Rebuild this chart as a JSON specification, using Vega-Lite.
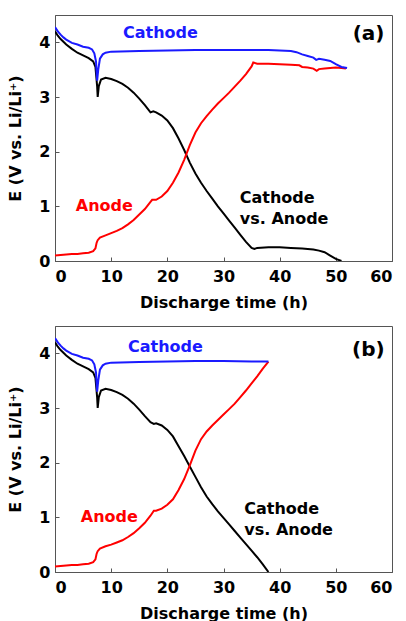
{
  "$schema": "https://vega.github.io/schema/vega-lite/v6.json",
  "padding": {"left": 7, "top": 14, "right": 0, "bottom": 0},
  "background": "white",
  "spacing": 65,
  "bounds": "flush",
  "config": {
    "font": "DejaVu Sans",
    "view": {"stroke": "#555555", "strokeWidth": 1},
    "axis": {
      "grid": false,
      "domainColor": "#555555",
      "tickColor": "#555555",
      "tickSize": -4,
      "labelPadding": 9,
      "labelFont": "DejaVu Sans",
      "labelFontSize": 16,
      "labelFontWeight": "bold",
      "labelColor": "#000000",
      "titleFont": "DejaVu Sans",
      "titleFontSize": 16,
      "titleFontWeight": "bold",
      "titleColor": "#000000",
      "format": "d"
    },
    "axisX": {"labelPadding": 11}
  },
  "datasets": {
    "curves": [
      {"panel":"a","series":"Cathode vs. Anode","t":0,"E":4.2},
      {"panel":"a","series":"Cathode vs. Anode","t":0.5,"E":4.12},
      {"panel":"a","series":"Cathode vs. Anode","t":1,"E":4.06},
      {"panel":"a","series":"Cathode vs. Anode","t":2,"E":3.96},
      {"panel":"a","series":"Cathode vs. Anode","t":3,"E":3.88},
      {"panel":"a","series":"Cathode vs. Anode","t":4,"E":3.81},
      {"panel":"a","series":"Cathode vs. Anode","t":5,"E":3.76},
      {"panel":"a","series":"Cathode vs. Anode","t":6,"E":3.71},
      {"panel":"a","series":"Cathode vs. Anode","t":6.8,"E":3.65},
      {"panel":"a","series":"Cathode vs. Anode","t":7.2,"E":3.55},
      {"panel":"a","series":"Cathode vs. Anode","t":7.5,"E":3.2},
      {"panel":"a","series":"Cathode vs. Anode","t":7.6,"E":3.0},
      {"panel":"a","series":"Cathode vs. Anode","t":7.8,"E":3.2},
      {"panel":"a","series":"Cathode vs. Anode","t":8.2,"E":3.32},
      {"panel":"a","series":"Cathode vs. Anode","t":9,"E":3.35},
      {"panel":"a","series":"Cathode vs. Anode","t":10,"E":3.33},
      {"panel":"a","series":"Cathode vs. Anode","t":11,"E":3.29},
      {"panel":"a","series":"Cathode vs. Anode","t":12,"E":3.24},
      {"panel":"a","series":"Cathode vs. Anode","t":13,"E":3.17},
      {"panel":"a","series":"Cathode vs. Anode","t":14,"E":3.08},
      {"panel":"a","series":"Cathode vs. Anode","t":15,"E":2.97},
      {"panel":"a","series":"Cathode vs. Anode","t":16,"E":2.85},
      {"panel":"a","series":"Cathode vs. Anode","t":17,"E":2.72},
      {"panel":"a","series":"Cathode vs. Anode","t":17.5,"E":2.74},
      {"panel":"a","series":"Cathode vs. Anode","t":18,"E":2.72},
      {"panel":"a","series":"Cathode vs. Anode","t":19,"E":2.66},
      {"panel":"a","series":"Cathode vs. Anode","t":20,"E":2.57},
      {"panel":"a","series":"Cathode vs. Anode","t":21,"E":2.43},
      {"panel":"a","series":"Cathode vs. Anode","t":22,"E":2.24},
      {"panel":"a","series":"Cathode vs. Anode","t":23,"E":2.03},
      {"panel":"a","series":"Cathode vs. Anode","t":24,"E":1.8},
      {"panel":"a","series":"Cathode vs. Anode","t":25,"E":1.6},
      {"panel":"a","series":"Cathode vs. Anode","t":26,"E":1.43},
      {"panel":"a","series":"Cathode vs. Anode","t":27,"E":1.28},
      {"panel":"a","series":"Cathode vs. Anode","t":28,"E":1.14},
      {"panel":"a","series":"Cathode vs. Anode","t":29,"E":1.0},
      {"panel":"a","series":"Cathode vs. Anode","t":30,"E":0.87},
      {"panel":"a","series":"Cathode vs. Anode","t":31,"E":0.74},
      {"panel":"a","series":"Cathode vs. Anode","t":32,"E":0.61},
      {"panel":"a","series":"Cathode vs. Anode","t":33,"E":0.48},
      {"panel":"a","series":"Cathode vs. Anode","t":34,"E":0.35},
      {"panel":"a","series":"Cathode vs. Anode","t":35,"E":0.24},
      {"panel":"a","series":"Cathode vs. Anode","t":35.5,"E":0.22},
      {"panel":"a","series":"Cathode vs. Anode","t":36,"E":0.24},
      {"panel":"a","series":"Cathode vs. Anode","t":38,"E":0.25},
      {"panel":"a","series":"Cathode vs. Anode","t":40,"E":0.25},
      {"panel":"a","series":"Cathode vs. Anode","t":42,"E":0.24},
      {"panel":"a","series":"Cathode vs. Anode","t":44,"E":0.23},
      {"panel":"a","series":"Cathode vs. Anode","t":46,"E":0.21},
      {"panel":"a","series":"Cathode vs. Anode","t":47,"E":0.19},
      {"panel":"a","series":"Cathode vs. Anode","t":48,"E":0.16},
      {"panel":"a","series":"Cathode vs. Anode","t":49,"E":0.1},
      {"panel":"a","series":"Cathode vs. Anode","t":50,"E":0.04},
      {"panel":"a","series":"Cathode vs. Anode","t":51,"E":0.0},

      {"panel":"a","series":"Anode","t":0,"E":0.1},
      {"panel":"a","series":"Anode","t":1,"E":0.11},
      {"panel":"a","series":"Anode","t":2,"E":0.12},
      {"panel":"a","series":"Anode","t":3,"E":0.13},
      {"panel":"a","series":"Anode","t":4,"E":0.13},
      {"panel":"a","series":"Anode","t":5,"E":0.14},
      {"panel":"a","series":"Anode","t":6,"E":0.15},
      {"panel":"a","series":"Anode","t":6.8,"E":0.18},
      {"panel":"a","series":"Anode","t":7.2,"E":0.23},
      {"panel":"a","series":"Anode","t":7.4,"E":0.33},
      {"panel":"a","series":"Anode","t":7.6,"E":0.38},
      {"panel":"a","series":"Anode","t":8,"E":0.43},
      {"panel":"a","series":"Anode","t":9,"E":0.47},
      {"panel":"a","series":"Anode","t":10,"E":0.51},
      {"panel":"a","series":"Anode","t":11,"E":0.55},
      {"panel":"a","series":"Anode","t":12,"E":0.6},
      {"panel":"a","series":"Anode","t":13,"E":0.67},
      {"panel":"a","series":"Anode","t":14,"E":0.75},
      {"panel":"a","series":"Anode","t":15,"E":0.85},
      {"panel":"a","series":"Anode","t":16,"E":0.95},
      {"panel":"a","series":"Anode","t":17,"E":1.08},
      {"panel":"a","series":"Anode","t":17.3,"E":1.12},
      {"panel":"a","series":"Anode","t":18,"E":1.12},
      {"panel":"a","series":"Anode","t":19,"E":1.18},
      {"panel":"a","series":"Anode","t":20,"E":1.28},
      {"panel":"a","series":"Anode","t":21,"E":1.43},
      {"panel":"a","series":"Anode","t":22,"E":1.62},
      {"panel":"a","series":"Anode","t":23,"E":1.85},
      {"panel":"a","series":"Anode","t":24,"E":2.12},
      {"panel":"a","series":"Anode","t":25,"E":2.35},
      {"panel":"a","series":"Anode","t":26,"E":2.52},
      {"panel":"a","series":"Anode","t":27,"E":2.65},
      {"panel":"a","series":"Anode","t":28,"E":2.77},
      {"panel":"a","series":"Anode","t":29,"E":2.88},
      {"panel":"a","series":"Anode","t":30,"E":2.98},
      {"panel":"a","series":"Anode","t":31,"E":3.08},
      {"panel":"a","series":"Anode","t":32,"E":3.19},
      {"panel":"a","series":"Anode","t":33,"E":3.3},
      {"panel":"a","series":"Anode","t":34,"E":3.42},
      {"panel":"a","series":"Anode","t":35,"E":3.56},
      {"panel":"a","series":"Anode","t":35.3,"E":3.63},
      {"panel":"a","series":"Anode","t":36,"E":3.61},
      {"panel":"a","series":"Anode","t":38,"E":3.61},
      {"panel":"a","series":"Anode","t":40,"E":3.6},
      {"panel":"a","series":"Anode","t":42,"E":3.59},
      {"panel":"a","series":"Anode","t":43.5,"E":3.58},
      {"panel":"a","series":"Anode","t":44,"E":3.55},
      {"panel":"a","series":"Anode","t":45,"E":3.54},
      {"panel":"a","series":"Anode","t":46,"E":3.52},
      {"panel":"a","series":"Anode","t":46.6,"E":3.48},
      {"panel":"a","series":"Anode","t":47,"E":3.51},
      {"panel":"a","series":"Anode","t":48,"E":3.52},
      {"panel":"a","series":"Anode","t":49,"E":3.53},
      {"panel":"a","series":"Anode","t":50,"E":3.54},
      {"panel":"a","series":"Anode","t":51,"E":3.53},
      {"panel":"a","series":"Anode","t":51.8,"E":3.52},

      {"panel":"a","series":"Cathode","t":0,"E":4.28},
      {"panel":"a","series":"Cathode","t":0.5,"E":4.2},
      {"panel":"a","series":"Cathode","t":1,"E":4.14},
      {"panel":"a","series":"Cathode","t":1.5,"E":4.09},
      {"panel":"a","series":"Cathode","t":2,"E":4.05},
      {"panel":"a","series":"Cathode","t":3,"E":3.99},
      {"panel":"a","series":"Cathode","t":4,"E":3.96},
      {"panel":"a","series":"Cathode","t":5,"E":3.92},
      {"panel":"a","series":"Cathode","t":6,"E":3.9},
      {"panel":"a","series":"Cathode","t":6.6,"E":3.87},
      {"panel":"a","series":"Cathode","t":7.0,"E":3.8},
      {"panel":"a","series":"Cathode","t":7.3,"E":3.65},
      {"panel":"a","series":"Cathode","t":7.5,"E":3.3},
      {"panel":"a","series":"Cathode","t":7.7,"E":3.5},
      {"panel":"a","series":"Cathode","t":8.0,"E":3.7},
      {"panel":"a","series":"Cathode","t":8.5,"E":3.78},
      {"panel":"a","series":"Cathode","t":9,"E":3.81},
      {"panel":"a","series":"Cathode","t":10,"E":3.83},
      {"panel":"a","series":"Cathode","t":15,"E":3.84},
      {"panel":"a","series":"Cathode","t":20,"E":3.85},
      {"panel":"a","series":"Cathode","t":25,"E":3.86},
      {"panel":"a","series":"Cathode","t":30,"E":3.86},
      {"panel":"a","series":"Cathode","t":35,"E":3.86},
      {"panel":"a","series":"Cathode","t":38,"E":3.86},
      {"panel":"a","series":"Cathode","t":40,"E":3.85},
      {"panel":"a","series":"Cathode","t":42,"E":3.84},
      {"panel":"a","series":"Cathode","t":43,"E":3.82},
      {"panel":"a","series":"Cathode","t":44,"E":3.78},
      {"panel":"a","series":"Cathode","t":45,"E":3.75},
      {"panel":"a","series":"Cathode","t":46,"E":3.72},
      {"panel":"a","series":"Cathode","t":46.5,"E":3.68},
      {"panel":"a","series":"Cathode","t":47,"E":3.7},
      {"panel":"a","series":"Cathode","t":48,"E":3.68},
      {"panel":"a","series":"Cathode","t":49,"E":3.66},
      {"panel":"a","series":"Cathode","t":50,"E":3.6},
      {"panel":"a","series":"Cathode","t":51,"E":3.55},
      {"panel":"a","series":"Cathode","t":52,"E":3.53},

      {"panel":"b","series":"Cathode vs. Anode","t":0,"E":4.2},
      {"panel":"b","series":"Cathode vs. Anode","t":0.5,"E":4.12},
      {"panel":"b","series":"Cathode vs. Anode","t":1,"E":4.06},
      {"panel":"b","series":"Cathode vs. Anode","t":2,"E":3.96},
      {"panel":"b","series":"Cathode vs. Anode","t":3,"E":3.88},
      {"panel":"b","series":"Cathode vs. Anode","t":4,"E":3.81},
      {"panel":"b","series":"Cathode vs. Anode","t":5,"E":3.76},
      {"panel":"b","series":"Cathode vs. Anode","t":6,"E":3.71},
      {"panel":"b","series":"Cathode vs. Anode","t":6.8,"E":3.65},
      {"panel":"b","series":"Cathode vs. Anode","t":7.2,"E":3.55},
      {"panel":"b","series":"Cathode vs. Anode","t":7.5,"E":3.2},
      {"panel":"b","series":"Cathode vs. Anode","t":7.6,"E":3.0},
      {"panel":"b","series":"Cathode vs. Anode","t":7.8,"E":3.2},
      {"panel":"b","series":"Cathode vs. Anode","t":8.2,"E":3.32},
      {"panel":"b","series":"Cathode vs. Anode","t":9,"E":3.35},
      {"panel":"b","series":"Cathode vs. Anode","t":10,"E":3.33},
      {"panel":"b","series":"Cathode vs. Anode","t":11,"E":3.29},
      {"panel":"b","series":"Cathode vs. Anode","t":12,"E":3.24},
      {"panel":"b","series":"Cathode vs. Anode","t":13,"E":3.17},
      {"panel":"b","series":"Cathode vs. Anode","t":14,"E":3.08},
      {"panel":"b","series":"Cathode vs. Anode","t":15,"E":2.97},
      {"panel":"b","series":"Cathode vs. Anode","t":16,"E":2.85},
      {"panel":"b","series":"Cathode vs. Anode","t":17,"E":2.74},
      {"panel":"b","series":"Cathode vs. Anode","t":17.6,"E":2.71},
      {"panel":"b","series":"Cathode vs. Anode","t":18,"E":2.72},
      {"panel":"b","series":"Cathode vs. Anode","t":19,"E":2.68},
      {"panel":"b","series":"Cathode vs. Anode","t":20,"E":2.6},
      {"panel":"b","series":"Cathode vs. Anode","t":21,"E":2.48},
      {"panel":"b","series":"Cathode vs. Anode","t":22,"E":2.3},
      {"panel":"b","series":"Cathode vs. Anode","t":23,"E":2.12},
      {"panel":"b","series":"Cathode vs. Anode","t":24,"E":1.93},
      {"panel":"b","series":"Cathode vs. Anode","t":25,"E":1.74},
      {"panel":"b","series":"Cathode vs. Anode","t":26,"E":1.55},
      {"panel":"b","series":"Cathode vs. Anode","t":27,"E":1.38},
      {"panel":"b","series":"Cathode vs. Anode","t":28,"E":1.24},
      {"panel":"b","series":"Cathode vs. Anode","t":29,"E":1.11},
      {"panel":"b","series":"Cathode vs. Anode","t":30,"E":0.99},
      {"panel":"b","series":"Cathode vs. Anode","t":31,"E":0.87},
      {"panel":"b","series":"Cathode vs. Anode","t":32,"E":0.75},
      {"panel":"b","series":"Cathode vs. Anode","t":33,"E":0.63},
      {"panel":"b","series":"Cathode vs. Anode","t":34,"E":0.51},
      {"panel":"b","series":"Cathode vs. Anode","t":35,"E":0.39},
      {"panel":"b","series":"Cathode vs. Anode","t":36,"E":0.27},
      {"panel":"b","series":"Cathode vs. Anode","t":37,"E":0.14},
      {"panel":"b","series":"Cathode vs. Anode","t":38,"E":0.0},

      {"panel":"b","series":"Anode","t":0,"E":0.1},
      {"panel":"b","series":"Anode","t":1,"E":0.11},
      {"panel":"b","series":"Anode","t":2,"E":0.12},
      {"panel":"b","series":"Anode","t":3,"E":0.13},
      {"panel":"b","series":"Anode","t":4,"E":0.13},
      {"panel":"b","series":"Anode","t":5,"E":0.14},
      {"panel":"b","series":"Anode","t":6,"E":0.15},
      {"panel":"b","series":"Anode","t":6.8,"E":0.18},
      {"panel":"b","series":"Anode","t":7.2,"E":0.23},
      {"panel":"b","series":"Anode","t":7.4,"E":0.33},
      {"panel":"b","series":"Anode","t":7.6,"E":0.38},
      {"panel":"b","series":"Anode","t":8,"E":0.43},
      {"panel":"b","series":"Anode","t":9,"E":0.47},
      {"panel":"b","series":"Anode","t":10,"E":0.5},
      {"panel":"b","series":"Anode","t":11,"E":0.54},
      {"panel":"b","series":"Anode","t":12,"E":0.58},
      {"panel":"b","series":"Anode","t":13,"E":0.64},
      {"panel":"b","series":"Anode","t":14,"E":0.71},
      {"panel":"b","series":"Anode","t":15,"E":0.8},
      {"panel":"b","series":"Anode","t":16,"E":0.9},
      {"panel":"b","series":"Anode","t":17,"E":1.03},
      {"panel":"b","series":"Anode","t":17.6,"E":1.12},
      {"panel":"b","series":"Anode","t":18,"E":1.12},
      {"panel":"b","series":"Anode","t":19,"E":1.16},
      {"panel":"b","series":"Anode","t":20,"E":1.23},
      {"panel":"b","series":"Anode","t":21,"E":1.33},
      {"panel":"b","series":"Anode","t":22,"E":1.5},
      {"panel":"b","series":"Anode","t":23,"E":1.7},
      {"panel":"b","series":"Anode","t":24,"E":1.95},
      {"panel":"b","series":"Anode","t":25,"E":2.22},
      {"panel":"b","series":"Anode","t":26,"E":2.43},
      {"panel":"b","series":"Anode","t":27,"E":2.57},
      {"panel":"b","series":"Anode","t":28,"E":2.68},
      {"panel":"b","series":"Anode","t":29,"E":2.78},
      {"panel":"b","series":"Anode","t":30,"E":2.88},
      {"panel":"b","series":"Anode","t":31,"E":2.98},
      {"panel":"b","series":"Anode","t":32,"E":3.08},
      {"panel":"b","series":"Anode","t":33,"E":3.2},
      {"panel":"b","series":"Anode","t":34,"E":3.32},
      {"panel":"b","series":"Anode","t":35,"E":3.45},
      {"panel":"b","series":"Anode","t":36,"E":3.58},
      {"panel":"b","series":"Anode","t":37,"E":3.72},
      {"panel":"b","series":"Anode","t":38,"E":3.85},

      {"panel":"b","series":"Cathode","t":0,"E":4.28},
      {"panel":"b","series":"Cathode","t":0.5,"E":4.2},
      {"panel":"b","series":"Cathode","t":1,"E":4.14},
      {"panel":"b","series":"Cathode","t":1.5,"E":4.09},
      {"panel":"b","series":"Cathode","t":2,"E":4.05},
      {"panel":"b","series":"Cathode","t":3,"E":3.99},
      {"panel":"b","series":"Cathode","t":4,"E":3.96},
      {"panel":"b","series":"Cathode","t":5,"E":3.92},
      {"panel":"b","series":"Cathode","t":6,"E":3.9},
      {"panel":"b","series":"Cathode","t":6.6,"E":3.87},
      {"panel":"b","series":"Cathode","t":7.0,"E":3.8},
      {"panel":"b","series":"Cathode","t":7.3,"E":3.65},
      {"panel":"b","series":"Cathode","t":7.5,"E":3.3},
      {"panel":"b","series":"Cathode","t":7.7,"E":3.5},
      {"panel":"b","series":"Cathode","t":8.0,"E":3.7},
      {"panel":"b","series":"Cathode","t":8.5,"E":3.78},
      {"panel":"b","series":"Cathode","t":9,"E":3.81},
      {"panel":"b","series":"Cathode","t":10,"E":3.83},
      {"panel":"b","series":"Cathode","t":15,"E":3.84},
      {"panel":"b","series":"Cathode","t":20,"E":3.85},
      {"panel":"b","series":"Cathode","t":25,"E":3.86},
      {"panel":"b","series":"Cathode","t":30,"E":3.86},
      {"panel":"b","series":"Cathode","t":35,"E":3.85},
      {"panel":"b","series":"Cathode","t":38,"E":3.85}
    ],
    "labels": [
      {"panel":"a","series":"Cathode","t":12.1,"E":4.17,"text":"Cathode"},
      {"panel":"a","series":"Anode","t":3.7,"E":1.01,"text":"Anode"},
      {"panel":"a","series":"Cathode vs. Anode","t":32.9,"E":1.16,"text":"Cathode"},
      {"panel":"a","series":"Cathode vs. Anode","t":32.9,"E":0.77,"text":"vs. Anode"},
      {"panel":"b","series":"Cathode","t":13.0,"E":4.12,"text":"Cathode"},
      {"panel":"b","series":"Anode","t":4.6,"E":1.0,"text":"Anode"},
      {"panel":"b","series":"Cathode vs. Anode","t":33.7,"E":1.15,"text":"Cathode"},
      {"panel":"b","series":"Cathode vs. Anode","t":33.7,"E":0.76,"text":"vs. Anode"}
    ],
    "tags": [
      {"panel":"a","t":53.0,"E":4.15,"text":"(a)"},
      {"panel":"b","t":52.9,"E":4.06,"text":"(b)"}
    ]
  },
  "vconcat": [
    {
      "width": 337,
      "height": 246,
      "layer": [
        {
          "data": {"name": "curves"},
          "transform": [{"filter": "datum.panel === 'a'"}],
          "mark": {"type": "line", "strokeWidth": 2, "clip": true},
          "encoding": {
            "x": {"field": "t", "type": "quantitative", "scale": {"domain": [0, 60], "nice": false}, "axis": {"values": [0, 10, 20, 30, 40, 50, 60], "title": "Discharge time (h)", "titlePadding": 10}},
            "y": {"field": "E", "type": "quantitative", "scale": {"domain": [0, 4.5], "nice": false}, "axis": {"values": [0, 1, 2, 3, 4], "title": "E (V vs. Li/Li⁺)", "titlePadding": 15}},
            "color": {"field": "series", "type": "nominal", "scale": {"domain": ["Cathode vs. Anode", "Anode", "Cathode"], "range": ["#000000", "#ff0000", "#1a1aff"]}, "legend": null}
          }
        },
        {
          "data": {"name": "labels"},
          "transform": [{"filter": "datum.panel === 'a'"}],
          "mark": {"type": "text", "align": "left", "baseline": "middle", "fontSize": 16, "fontWeight": "bold", "font": "DejaVu Sans"},
          "encoding": {
            "x": {"field": "t", "type": "quantitative"},
            "y": {"field": "E", "type": "quantitative"},
            "text": {"field": "text"},
            "color": {"field": "series", "type": "nominal"}
          }
        },
        {
          "data": {"name": "tags"},
          "transform": [{"filter": "datum.panel === 'a'"}],
          "mark": {"type": "text", "align": "left", "baseline": "middle", "fontSize": 20, "fontWeight": "bold", "font": "DejaVu Sans", "color": "#000000"},
          "encoding": {
            "x": {"field": "t", "type": "quantitative"},
            "y": {"field": "E", "type": "quantitative"},
            "text": {"field": "text"}
          }
        }
      ]
    },
    {
      "width": 337,
      "height": 246,
      "layer": [
        {
          "data": {"name": "curves"},
          "transform": [{"filter": "datum.panel === 'b'"}],
          "mark": {"type": "line", "strokeWidth": 2, "clip": true},
          "encoding": {
            "x": {"field": "t", "type": "quantitative", "scale": {"domain": [0, 60], "nice": false}, "axis": {"values": [0, 10, 20, 30, 40, 50, 60], "title": "Discharge time (h)", "titlePadding": 10}},
            "y": {"field": "E", "type": "quantitative", "scale": {"domain": [0, 4.5], "nice": false}, "axis": {"values": [0, 1, 2, 3, 4], "title": "E (V vs. Li/Li⁺)", "titlePadding": 15}},
            "color": {"field": "series", "type": "nominal", "scale": {"domain": ["Cathode vs. Anode", "Anode", "Cathode"], "range": ["#000000", "#ff0000", "#1a1aff"]}, "legend": null}
          }
        },
        {
          "data": {"name": "labels"},
          "transform": [{"filter": "datum.panel === 'b'"}],
          "mark": {"type": "text", "align": "left", "baseline": "middle", "fontSize": 16, "fontWeight": "bold", "font": "DejaVu Sans"},
          "encoding": {
            "x": {"field": "t", "type": "quantitative"},
            "y": {"field": "E", "type": "quantitative"},
            "text": {"field": "text"},
            "color": {"field": "series", "type": "nominal"}
          }
        },
        {
          "data": {"name": "tags"},
          "transform": [{"filter": "datum.panel === 'b'"}],
          "mark": {"type": "text", "align": "left", "baseline": "middle", "fontSize": 20, "fontWeight": "bold", "font": "DejaVu Sans", "color": "#000000"},
          "encoding": {
            "x": {"field": "t", "type": "quantitative"},
            "y": {"field": "E", "type": "quantitative"},
            "text": {"field": "text"}
          }
        }
      ]
    }
  ]
}
